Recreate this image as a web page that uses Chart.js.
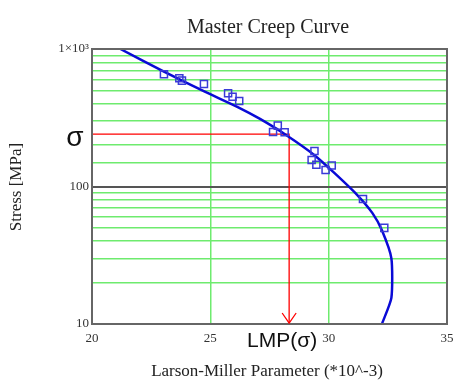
<html>
  <head>
    <meta charset="utf-8">
    <title>Master Creep Curve</title>
    <script src="https://cdn.jsdelivr.net/npm/chart.js@4.4.0/dist/chart.umd.min.js"></script>
    <style>
      body { margin: 0; background: #fff; }
    </style>
  </head>
  <body>
    <canvas id="myChart" width="471" height="392"></canvas>
    <script type="text/javascript">
      // test data (squares)
      const testLmp = [23.04, 23.69, 23.80, 24.73, 25.75, 25.94, 26.22, 27.85, 27.65, 28.14, 29.40, 29.28, 29.48, 29.87, 30.13, 31.45, 32.35];
      const testStress = [655, 612, 589, 556, 476, 450, 419, 277, 249, 248, 181, 156, 144, 132, 142, 81, 50];

      // fitted master curve
      const curveLmp = [21.2, 23.0, 24.7, 26.2, 27.1, 28.2, 29.4, 30.25, 31.2, 31.85, 32.25, 32.65, 32.65, 32.25];
      const curveStress = [1000, 690, 495, 375, 310, 237, 169, 125, 87, 64, 48, 30, 15.5, 10];

      // read-off construction: sigma -> LMP(sigma)
      const sigma = 240;
      const lmpAtSigma = 28.33;
      const readLmp = [20, lmpAtSigma, lmpAtSigma];
      const readStress = [sigma, sigma, 10];

      const xTicks = [20, 25, 30, 35];
      const yLabels = { 10: '10', 100: '100', 1000: '1×10³' };

      const serif = "'Liberation Serif', 'Times New Roman', serif";
      const sans = "'Liberation Sans', Arial, sans-serif";
      const green = 'rgb(110,235,110)';

      const pts = (xs, ys) => xs.map((x, i) => ({ x: x, y: ys[i] }));

      const decor = {
        id: 'decor',
        afterDatasetsDraw(chart) {
          const c = chart.ctx, a = chart.chartArea;
          const xs = chart.scales.x, ys = chart.scales.y;
          c.save();
          // frame
          c.strokeStyle = '#666';
          c.lineWidth = 2;
          c.strokeRect(a.left, a.top, a.right - a.left, a.bottom - a.top);
          // arrow head
          const ax = xs.getPixelForValue(lmpAtSigma);
          c.strokeStyle = 'red';
          c.lineWidth = 1.3;
          c.beginPath();
          c.moveTo(ax - 7, a.bottom - 11);
          c.lineTo(ax, a.bottom - 1);
          c.lineTo(ax + 7, a.bottom - 11);
          c.stroke();
          // texts
          c.fillStyle = '#222';
          c.textAlign = 'center';
          c.textBaseline = 'middle';
          c.font = '20px ' + serif;
          c.fillText('Master Creep Curve', 268, 28);
          c.font = '17px ' + serif;
          c.fillText('Larson-Miller Parameter (*10^-3)', 267, 372);
          c.save();
          c.translate(17, 187);
          c.rotate(-Math.PI / 2);
          c.fillText('Stress [MPa]', 0, 0);
          c.restore();
          c.fillStyle = '#111';
          c.font = '28px ' + sans;
          c.fillText('σ', a.left - 17, ys.getPixelForValue(sigma) + 4);
          c.font = '21px ' + sans;
          c.fillText('LMP(σ)', ax - 7, 341);
          c.restore();
        }
      };

      const ctx = document.getElementById('myChart').getContext('2d');
      const chart = new Chart(ctx, {
        type: 'scatter',
        data: {
          datasets: [{
            label: 'test data',
            data: pts(testLmp, testStress),
            pointStyle: 'rect',
            pointRadius: 5,
            pointBorderWidth: 1.5,
            pointBorderColor: '#3a3ad8',
            pointBackgroundColor: 'rgba(0,0,0,0)',
            showLine: false,
            order: 0
          }, {
            label: 'master curve',
            data: pts(curveLmp, curveStress),
            showLine: true,
            borderColor: '#0a0ad6',
            borderWidth: 2.5,
            pointRadius: 0,
            tension: 0.2,
            order: 1
          }, {
            label: 'read off',
            data: pts(readLmp, readStress),
            showLine: true,
            borderColor: 'red',
            borderWidth: 1.3,
            pointRadius: 0,
            tension: 0,
            order: 2
          }]
        },
        options: {
          responsive: false,
          animation: false,
          layout: { padding: { left: 0, top: 49, right: 24, bottom: 0 } },
          plugins: { legend: { display: false }, tooltip: { enabled: false } },
          scales: {
            x: {
              type: 'linear',
              min: 20, max: 35,
              afterBuildTicks: s => { s.ticks = xTicks.map(v => ({ value: v })); },
              afterFit: s => { s.height = 68; },
              ticks: { font: { family: serif, size: 13 }, color: '#333', padding: 7 },
              grid: {
                drawTicks: false,
                lineWidth: 1.5,
                color: c => (c.tick && (c.tick.value === 25 || c.tick.value === 30)) ? green : 'rgba(0,0,0,0)'
              },
              border: { color: '#666', width: 2 }
            },
            y: {
              type: 'logarithmic',
              min: 10, max: 1000,
              afterFit: s => { s.width = 92; },
              ticks: {
                autoSkip: false,
                font: { family: serif, size: 13 },
                color: '#333',
                padding: 3,
                callback: v => yLabels[v] || ''
              },
              grid: {
                drawTicks: false,
                lineWidth: c => (c.tick && c.tick.value === 100) ? 2 : 1.5,
                color: c => {
                  if (!c.tick) return green;
                  if (c.tick.value === 100) return '#555';
                  if (c.tick.value === 10 || c.tick.value === 1000) return 'rgba(0,0,0,0)';
                  return green;
                }
              },
              border: { color: '#666', width: 2 }
            }
          }
        },
        plugins: [decor]
      });
    </script>
  </body>
</html>
